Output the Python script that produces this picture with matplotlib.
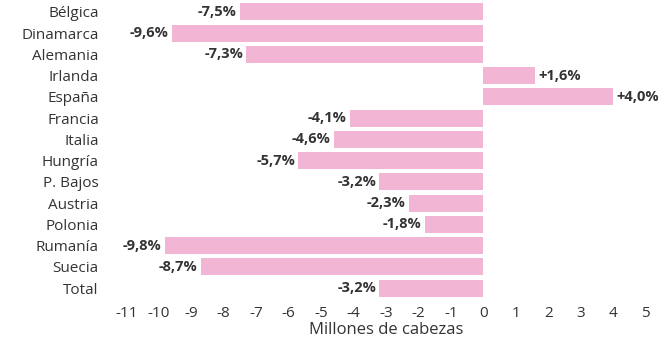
import matplotlib.pyplot as plt

plt.rcParams['font.family'] = ['Open Sans', 'DejaVu Sans']

paises = ["Bélgica", "Dinamarca", "Alemania", "Irlanda", "España", "Francia", "Italia",
          "Hungría", "P. Bajos", "Austria", "Polonia", "Rumanía", "Suecia", "Total"]
variacion = [-7.5, -9.6, -7.3, 1.6, 4.0, -4.1, -4.6, -5.7, -3.2, -2.3, -1.8, -9.8, -8.7, -3.2]
ticks = list(range(-11, 6))

rosa = "#F2B5D4"
gris = "#333333"

fig = plt.figure(figsize=(6.66, 3.39), dpi=100)
ax = fig.add_axes([0.165, 0.119, 0.829, 0.877])

pos = list(range(len(paises)))
ax.barh(pos, variacion, height=0.8, color=rosa)

# etiqueta con el porcentaje al final de cada barra
for y, v in zip(pos, variacion):
    txt = ("+" if v > 0 else "") + f"{v:.1f}".replace(".", ",") + "%"
    if v < 0:
        ax.text(v - 0.1, y, txt, ha="right", va="center", fontsize=10.5,
                fontweight="bold", color=gris)
    else:
        ax.text(v + 0.1, y, txt, ha="left", va="center", fontsize=10.5,
                fontweight="bold", color=gris)

ax.set_xlim(-11.5, 5.5)
ax.set_ylim(len(paises) - 0.5, -0.5)
ax.set_yticks(pos)
ax.set_yticklabels(paises, fontsize=11, color=gris)
ax.set_xticks(ticks)
ax.set_xticklabels([str(t) for t in ticks], fontsize=11, color=gris)
ax.tick_params(length=0, pad=5)
ax.tick_params(axis="y", pad=8)
ax.set_xlabel("Millones de cabezas", fontsize=12, color=gris, labelpad=1)

for s in ax.spines.values():
    s.set_visible(False)

plt.savefig("out.png")
